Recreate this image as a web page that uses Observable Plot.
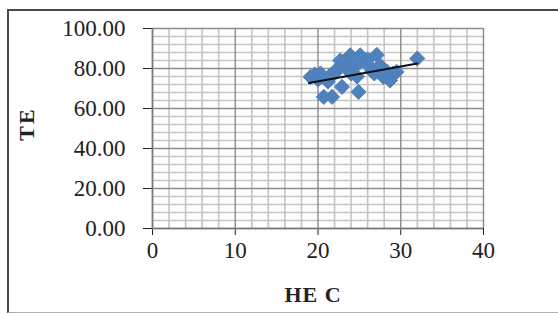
<!DOCTYPE html>
<html>
<head>
<meta charset="utf-8">
<script src="https://cdn.jsdelivr.net/npm/d3@7"></script>
<script src="https://cdn.jsdelivr.net/npm/@observablehq/plot@0.6"></script>
<style>
  html, body { margin: 0; padding: 0; background: #fff; }
  #wrap { position: relative; width: 558px; height: 314px; overflow: hidden; }
  #frame { position: absolute; left: 7px; top: 9px; width: 560px; height: 301px;
           border-left: 2px solid #4a4a4a; border-top: 2px solid #4a4a4a; border-bottom: 1px solid #b0b0b0; }
  .title { position: absolute; font-family: "Liberation Serif", serif; font-weight: bold; font-size: 22px; color: #222; white-space: nowrap; }
  #ytitle { left: 27px; top: 124px; transform: translate(-50%, -50%) rotate(-90deg); letter-spacing: 2px; }
  #xtitle { left: 313px; top: 295px; transform: translate(-50%, -50%); letter-spacing: 1px; }
</style>
</head>
<body>
<div id="wrap">
  <div id="chart"></div>
  <div id="frame"></div>
  <div class="title" id="ytitle">TE</div>
  <div class="title" id="xtitle">HE C</div>
</div>
<script>
// Data
const hec = [19.1, 19.6, 20.3, 20.0, 21.5, 21.2, 20.7, 21.7, 22.1, 22.7, 23.3, 22.9, 23.9, 23.5, 24.4, 25.1, 25.0, 24.0, 24.7, 24.9, 25.9, 26.5, 26.0, 26.8, 27.5, 27.1, 27.9, 28.3, 28.7, 29.1, 29.5, 22.5, 32.0];
const te  = [75.8, 77.0, 77.5, 74.5, 76.6, 73.5, 65.8, 65.8, 78.0, 84.0, 82.0, 70.8, 86.6, 80.0, 81.0, 86.6, 83.0, 77.5, 76.0, 68.3, 82.5, 79.0, 84.5, 77.5, 81.6, 86.8, 75.8, 78.5, 74.0, 77.5, 78.3, 80.5, 85.0];
// Linear trend line endpoints
const trendX = [18.9, 32.0];
const trendY = [72.8, 82.5];
// Tick values
const xTicks = [0, 10, 20, 30, 40];
const yTicks = [0, 20, 40, 60, 80, 100];
const xMinor = [2, 4, 6, 8, 12, 14, 16, 18, 22, 24, 26, 28, 32, 34, 36, 38];
const yMinor = [4, 8, 12, 16, 24, 28, 32, 36, 44, 48, 52, 56, 64, 68, 72, 76, 84, 88, 92, 96];

const points = hec.map((x, i) => ({x, y: te[i]}));
const trend = trendX.map((x, i) => ({x, y: trendY[i]}));

const chart = Plot.plot({
  width: 558,
  height: 314,
  marginLeft: 152,
  marginRight: 75,
  marginTop: 28,
  marginBottom: 86,
  style: { background: "transparent", fontFamily: "'Liberation Serif', serif", fontSize: "23px", color: "#222", overflow: "visible" },
  x: { domain: [0, 40], ticks: xTicks, tickSize: 7, tickPadding: 6, label: null },
  y: { domain: [0, 100], ticks: yTicks, tickSize: 9, tickPadding: 18, tickFormat: d => d.toFixed(2), label: null },
  marks: [
    Plot.ruleX(xMinor, { stroke: "#c4c4c4", strokeWidth: 1.6 }),
    Plot.ruleY(yMinor, { stroke: "#c4c4c4", strokeWidth: 1.6 }),
    Plot.ruleX(xTicks, { stroke: "#8c8c8c", strokeWidth: 1.4 }),
    Plot.ruleY(yTicks, { stroke: "#8c8c8c", strokeWidth: 1.4 }),
    Plot.ruleX([0], { stroke: "#777", strokeWidth: 1.6 }),
    Plot.ruleY([0], { stroke: "#777", strokeWidth: 1.6 }),
    Plot.dot(points, { x: "x", y: "y", symbol: "diamond2", r: 6.8, fill: "#4f81bd", stroke: "#4f81bd", strokeWidth: 1 }),
    Plot.line(trend, { x: "x", y: "y", stroke: "#111", strokeWidth: 2 })
  ]
});
document.getElementById("chart").appendChild(chart);
</script>
</body>
</html>
